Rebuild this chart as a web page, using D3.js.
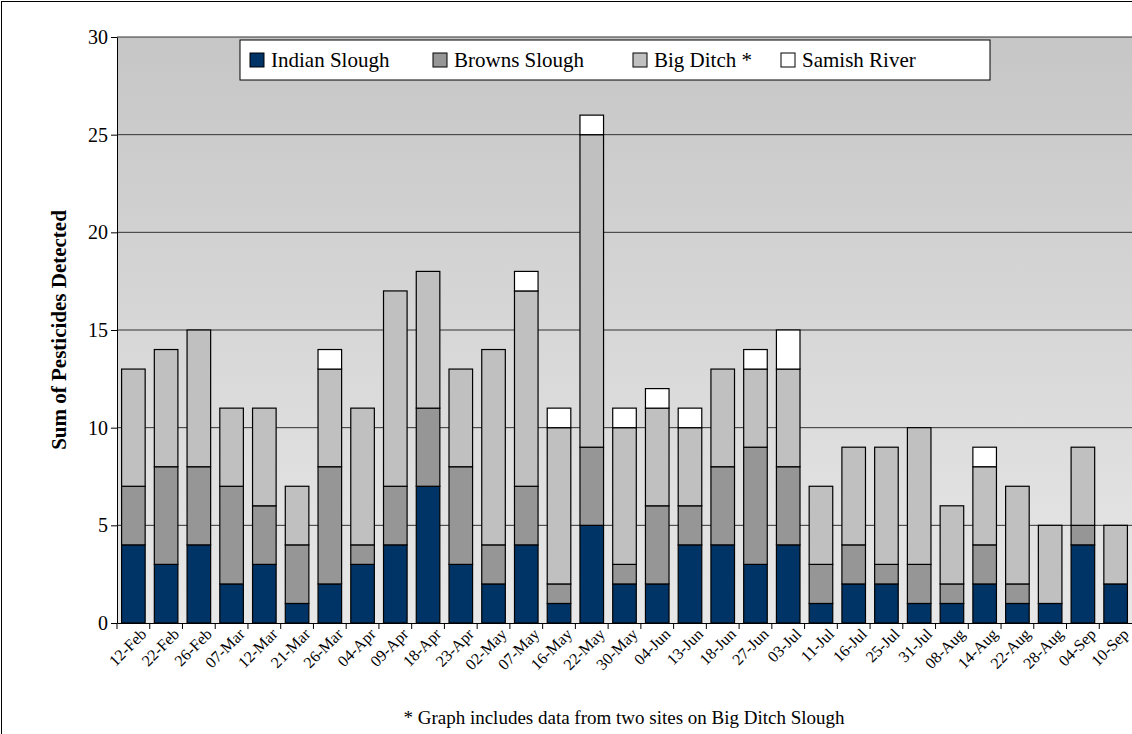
<!DOCTYPE html>
<html><head><meta charset="utf-8">
<script src="https://cdn.jsdelivr.net/npm/d3@7"></script>
<style>body{margin:0;background:#fff}svg{display:block}</style>
</head><body><svg id="c" width="1132" height="734"></svg>
<script>
const dates = ['12-Feb','22-Feb','26-Feb','07-Mar','12-Mar','21-Mar','26-Mar','04-Apr','09-Apr','18-Apr','23-Apr','02-May','07-May','16-May','22-May','30-May','04-Jun','13-Jun','18-Jun','27-Jun','03-Jul','11-Jul','16-Jul','25-Jul','31-Jul','08-Aug','14-Aug','22-Aug','28-Aug','04-Sep','10-Sep'];
const indian = [4,3,4,2,3,1,2,3,4,7,3,2,4,1,5,2,2,4,4,3,4,1,2,2,1,1,2,1,1,4,2];
const browns = [3,5,4,5,3,3,6,1,3,4,5,2,3,1,4,1,4,2,4,6,4,2,2,1,2,1,2,1,0,1,0];
const bigDitch = [6,6,7,4,5,3,5,7,10,7,5,10,10,8,16,7,5,4,5,4,5,4,5,6,7,4,4,5,4,4,3];
const samish = [0,0,0,0,0,0,1,0,0,0,0,0,1,1,1,1,1,1,0,1,2,0,0,0,0,0,1,0,0,0,0];
const seriesNames = ['Indian Slough','Browns Slough','Big Ditch *','Samish River'];
const colors = ['#003366','#969696','#c0c0c0','#ffffff'];
const yTicks = [0,5,10,15,20,25,30];

const svg = d3.select('#c');
const m = {l:117, t:37, r:1132, b:623};
const x = d3.scaleBand().domain(dates).range([m.l, m.r]).paddingInner(0.28).paddingOuter(0.14);
const y = d3.scaleLinear().domain([0,30]).range([m.b, m.t]);

svg.append('rect').attr('x',1.5).attr('y',1.5).attr('width',1140).attr('height',740)
  .attr('fill','none').attr('stroke','#000');

const grad = svg.append('defs').append('linearGradient').attr('id','bg').attr('x1',0).attr('y1',0).attr('x2',0).attr('y2',1);
grad.append('stop').attr('offset','0%').attr('stop-color','#c6c6c6');
grad.append('stop').attr('offset','100%').attr('stop-color','#e8e8e8');
svg.append('rect').attr('x',m.l).attr('y',m.t).attr('width',m.r-m.l).attr('height',m.b-m.t).attr('fill','url(#bg)');

svg.append('g').selectAll('line').data(yTicks.slice(1)).join('line')
  .attr('x1',m.l).attr('x2',m.r).attr('y1',d=>y(d)).attr('y2',d=>y(d)).attr('stroke','#333').attr('stroke-width',1);

const stacked = d3.stack().keys([0,1,2,3]).value((d,k)=>[indian,browns,bigDitch,samish][k][d])(dates.map((_,i)=>i));
stacked.forEach((s,k)=>{
  svg.append('g').selectAll('rect').data(s.filter(d=>d[1]>d[0])).join('rect')
    .attr('x',d=>x(dates[d.data])).attr('width',x.bandwidth())
    .attr('y',d=>y(d[1])).attr('height',d=>y(d[0])-y(d[1]))
    .attr('fill',colors[k]).attr('stroke','#000').attr('stroke-width',1.2);
});

const ya = svg.append('g').attr('transform',`translate(${m.l},0)`)
  .call(d3.axisLeft(y).tickValues(yTicks).tickSize(6).tickSizeOuter(0));
ya.selectAll('text').attr('font-family','Liberation Serif').attr('font-size',20).attr('fill','#000');
ya.selectAll('line,path').attr('stroke','#000');

const xa = svg.append('g').attr('transform',`translate(0,${m.b})`)
  .call(d3.axisBottom(x).tickSize(0).tickSizeOuter(0));
xa.select('path').attr('stroke','#000');
xa.selectAll('text').attr('font-family','Liberation Serif').attr('font-size',16).attr('fill','#000')
  .attr('text-anchor','end').attr('transform','translate(8,6) rotate(-45)').attr('dy','0.35em');
svg.append('g').selectAll('line').data(dates).join('line')
  .attr('x1',d=>x(d)-x.step()*x.paddingInner()/2).attr('x2',d=>x(d)-x.step()*x.paddingInner()/2)
  .attr('y1',m.b).attr('y2',m.b+6).attr('stroke','#000');

svg.append('text').attr('transform',`translate(66,${(m.t+m.b)/2}) rotate(-90)`)
  .attr('text-anchor','middle').attr('font-family','Liberation Serif').attr('font-size',21).attr('font-weight','bold')
  .text('Sum of Pesticides Detected');

svg.append('text').attr('x',624).attr('y',724).attr('text-anchor','middle')
  .attr('font-family','Liberation Serif').attr('font-size',19).text('* Graph includes data from two sites on Big Ditch Slough');

const lg = svg.append('g');
lg.append('rect').attr('x',240).attr('y',40).attr('width',750).attr('height',40).attr('fill','#fff').attr('stroke','#000');
const lx = [250,433,633,781];
seriesNames.forEach((n,i)=>{
  lg.append('rect').attr('x',lx[i]).attr('y',53).attr('width',14).attr('height',14).attr('fill',colors[i]).attr('stroke','#000');
  lg.append('text').attr('x',lx[i]+21).attr('y',67).attr('font-family','Liberation Serif').attr('font-size',21).text(n);
});
</script></body></html>
